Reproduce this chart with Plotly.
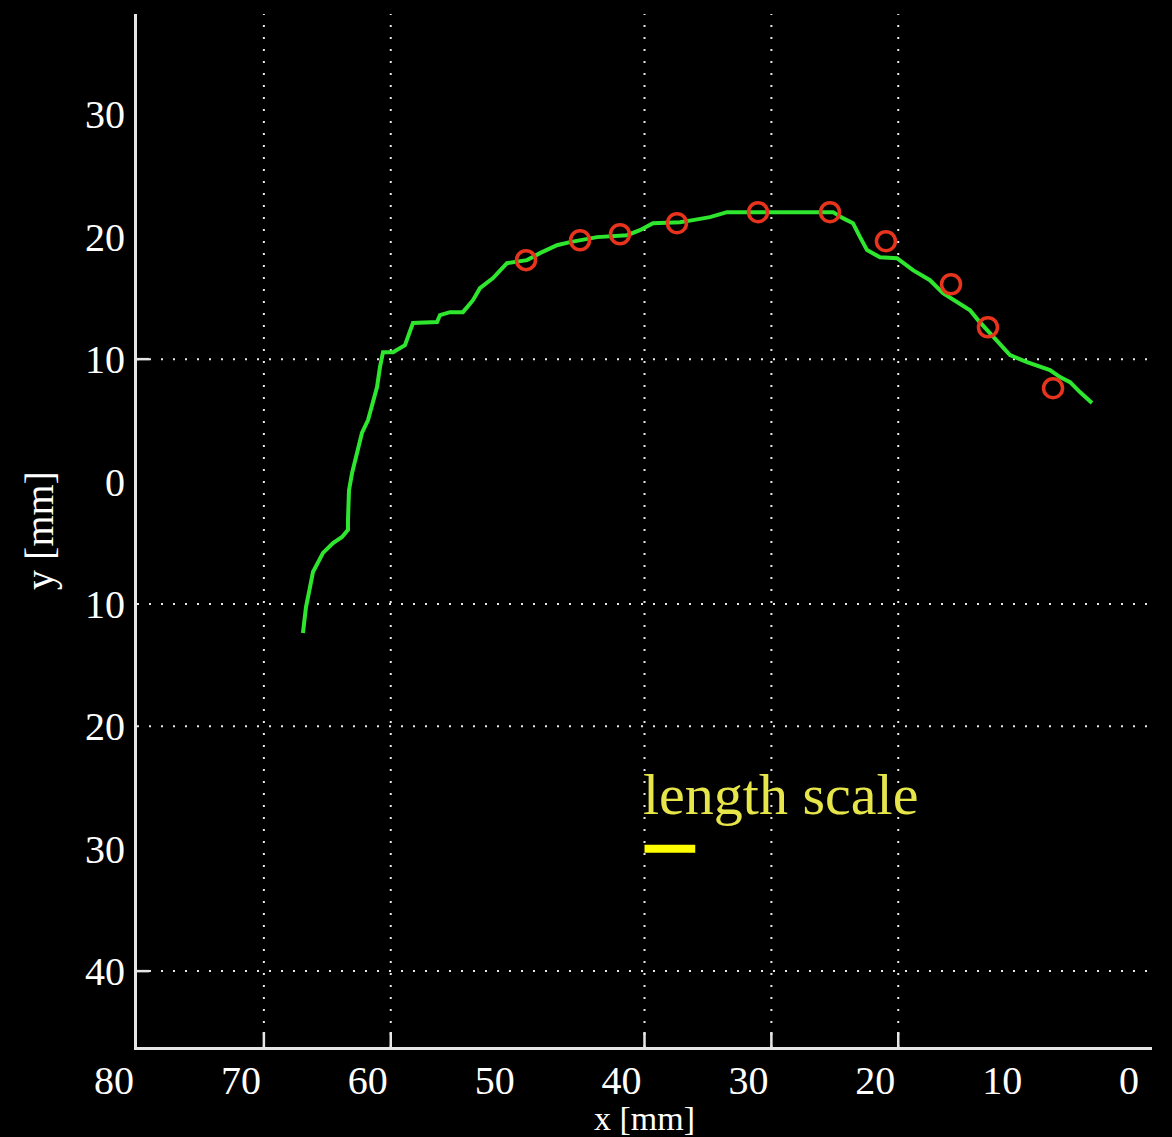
import plotly.graph_objects as go

# ---- data ----
curve_x = [66.92, 66.68, 66.36, 66.13, 65.34, 64.55, 63.84, 63.37, 63.37, 63.29,
           63.05, 62.66, 62.27, 61.79, 61.40, 61.08, 60.85, 60.61, 59.82, 59.51,
           58.88, 58.25, 56.35, 56.12, 55.33, 54.31, 53.52, 52.97, 51.94, 50.84,
           50.36, 49.26, 48.24, 46.90, 45.87, 45.08, 43.74, 41.38, 40.36, 39.33,
           37.20, 36.18, 34.84, 33.50, 31.69, 25.14, 24.36, 23.57, 23.01, 22.46,
           21.44, 20.10, 18.84, 17.50, 16.47, 15.13, 14.34, 13.71, 12.77, 11.98,
           11.19, 9.85, 8.04, 7.25, 6.46, 5.68, 4.73]
curve_y = [-12.37, -10.25, -8.61, -7.39, -5.83, -5.02, -4.53, -3.95, -3.14, -0.70,
           0.69, 2.34, 3.97, 5.02, 6.66, 7.72, 9.35, 10.57, 10.57, 10.74,
           11.14, 12.95, 13.03, 13.60, 13.84, 13.84, 14.82, 15.80, 16.62, 17.84,
           17.92, 18.09, 18.66, 19.31, 19.56, 19.72, 19.97, 20.13, 20.54, 21.11,
           21.19, 21.36, 21.60, 22.01, 22.01, 22.01, 21.52, 21.11, 19.97, 18.91,
           18.33, 18.25, 17.27, 16.45, 15.39, 14.57, 14.00, 13.19, 12.12, 11.31,
           10.33, 9.76, 9.10, 8.53, 8.12, 7.31, 6.41]

marker_x = [49.34, 45.08, 41.93, 37.44, 31.05, 25.38, 20.97, 15.84, 12.93, 7.80]
marker_y = [18.09, 19.72, 20.21, 21.11, 22.01, 22.01, 19.64, 16.12, 12.61, 7.63]

scale_bar_x = [40, 36]
scale_bar_y = [-30, -30]
scale_label = "length scale"

x_tick_vals = [80, 70, 60, 50, 40, 30, 20, 10, 0]
x_tick_text = ["80", "70", "60", "50", "40", "30", "20", "10", "0"]
y_tick_vals = [30, 20, 10, 0, -10, -20, -30, -40]
y_tick_text = ["30", "20", "10", "0", "10", "20", "30", "40"]

x_grid = [70, 60, 40, 30, 20]
y_grid = [10, -10, -20, -40]

X_RANGE = [80, 0]
Y_RANGE = [-46.2, 38.2]

FONT = "Liberation Serif"
GRID_COLOR = "#e8e8e8"
AXIS_COLOR = "#e6e6e6"

fig = go.Figure()

fig.add_trace(go.Scatter(x=curve_x, y=curve_y, mode="lines",
                         line=dict(color="#2ee62e", width=4), showlegend=False))
fig.add_trace(go.Scatter(x=marker_x, y=marker_y, mode="markers",
                         marker=dict(symbol="circle-open", size=19, color="#e8341c",
                                     line=dict(width=3.5, color="#e8341c")),
                         showlegend=False))
fig.add_trace(go.Scatter(x=scale_bar_x, y=scale_bar_y, mode="lines",
                         line=dict(color="#ffff00", width=8), showlegend=False))

shapes = []
for gx in x_grid:
    shapes.append(dict(type="line", xref="x", yref="paper", x0=gx, x1=gx, y0=0, y1=1,
                       line=dict(color=GRID_COLOR, width=2, dash="2px,10px"), layer="below"))
    shapes.append(dict(type="line", xref="x", yref="paper", x0=gx, x1=gx, y0=0, y1=0.0145,
                       line=dict(color=AXIS_COLOR, width=2.5)))
for gy in y_grid:
    shapes.append(dict(type="line", xref="paper", yref="y", x0=0, x1=1, y0=gy, y1=gy,
                       line=dict(color=GRID_COLOR, width=2, dash="2px,10px"), layer="below"))
for gy in [10, -40]:
    shapes.append(dict(type="line", xref="paper", yref="y", x0=0, x1=0.012, y0=gy, y1=gy,
                       line=dict(color=AXIS_COLOR, width=2.5)))

fig.update_layout(
    width=1172, height=1137,
    margin=dict(l=137, r=20, t=14, b=90),
    paper_bgcolor="black", plot_bgcolor="black",
    shapes=shapes,
    annotations=[dict(x=scale_bar_x[0], y=-25.6, xref="x", yref="y", text=scale_label,
                      showarrow=False, xanchor="left", yanchor="middle", xshift=-4,
                      font=dict(family=FONT, size=58, color="#e6e64a"))],
    xaxis=dict(range=X_RANGE, tickmode="array", tickvals=x_tick_vals, ticktext=x_tick_text,
               showgrid=False, zeroline=False, showline=True, linecolor=AXIS_COLOR, linewidth=3,
               ticks="", ticklabelshift=23, ticklabelstandoff=-4, automargin=False,
               tickfont=dict(family=FONT, size=40, color="white"),
               title=dict(text="x [mm]", font=dict(family=FONT, size=34, color="white"), standoff=0)),
    yaxis=dict(range=Y_RANGE, tickmode="array", tickvals=y_tick_vals, ticktext=y_tick_text,
               showgrid=False, zeroline=False, showline=True, linecolor=AXIS_COLOR, linewidth=3,
               ticks="", ticklabelstandoff=1, automargin=False,
               tickfont=dict(family=FONT, size=40, color="white"),
               title=dict(text="y [mm]", font=dict(family=FONT, size=40, color="white"), standoff=20)),
)

fig.write_html("out.html", config={"displayModeBar": False},
               post_script="document.body.style.margin='0';document.body.style.background='black';")
